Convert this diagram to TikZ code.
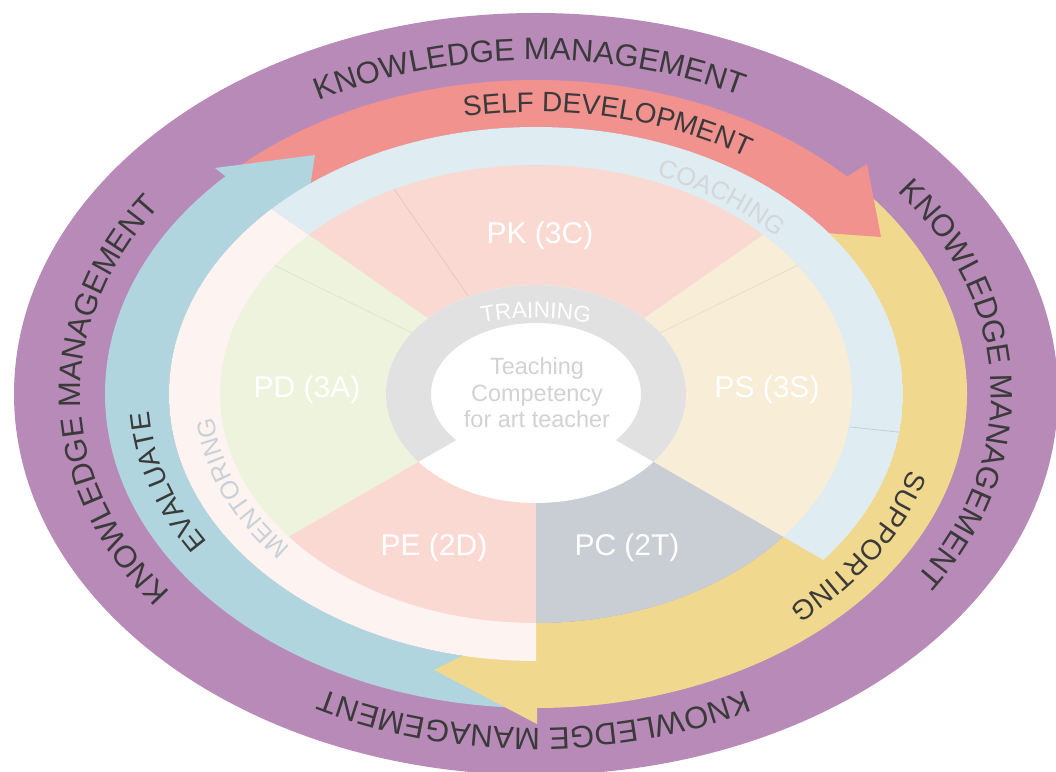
\documentclass[tikz,border=0pt]{standalone}
\usepackage{fontspec}
\setmainfont{Liberation Sans}
\usetikzlibrary{decorations.text}
\definecolor{kmpurple}{HTML}{B78AB8}
\definecolor{sdpink}{HTML}{F2928F}
\definecolor{supyellow}{HTML}{F0D98E}
\definecolor{evblue}{HTML}{B0D5DE}
\definecolor{coachring}{HTML}{DFECF1}
\definecolor{mentring}{HTML}{FDF3F0}
\definecolor{pkpink}{HTML}{FAD9D3}
\definecolor{pdgreen}{HTML}{EEF3DE}
\definecolor{pscream}{HTML}{F8EDD6}
\definecolor{pcgray}{HTML}{C9CED5}
\definecolor{traingray}{HTML}{E1E1E1}
\definecolor{darktext}{HTML}{3A3A3A}
\definecolor{centertext}{HTML}{D2D2D2}
\definecolor{coachtext}{HTML}{D3D7DA}
\definecolor{menttext}{HTML}{C9D1D7}
\newcommand\kmfmt{\fontsize{23.25}{24}\selectfont\color{darktext}}
\newcommand\bandfmt{\fontsize{21}{22}\selectfont\color{darktext}}
\newcommand\coachfmt{\fontsize{19}{20}\selectfont\color{coachtext}}
\newcommand\mentfmt{\fontsize{19}{20}\selectfont\color{menttext}}
\newcommand\trainfmt{\fontsize{17}{18}\selectfont\color{white}}
\newcommand\wedgeclip[2]{\clip (0,0) -- (#1:2000) arc[start angle=#1, end angle=#2, radius=2000] -- cycle;}
\tikzset{
  seclabel/.style={text=white, font=\fontsize{22.5}{24}\selectfont, inner sep=0pt},
  centerlabel/.style={text=centertext, font=\fontsize{17.6}{19.9}\selectfont, align=center, inner sep=0pt},
  faint/.style={line width=0.6},
  ringtext/.style={decorate, decoration={text along path, text align=center, text={#1}}}
}
\begin{document}
\begin{tikzpicture}[x=0.75pt,y=0.75pt]
\useasboundingbox (0,0) rectangle (1056,771);
\begin{scope}[shift={(536,377)}]
% outer band
\fill[kmpurple] (0,0) ellipse[x radius=522, y radius=381];
% yellow body
\fill[supyellow] (270:431 and 314) arc[start angle=270, end angle=400, x radius=431, y radius=314]
  -- (400:316 and 229) arc[start angle=400, end angle=270, x radius=316, y radius=229] -- cycle;
% pink arrow
\fill[sdpink] (135:431 and 314) arc[start angle=135, end angle=43.8, x radius=431, y radius=314]
  -- (331,230) -- (345,157)
  -- (37:367 and 267) arc[start angle=37, end angle=135, x radius=367, y radius=267] -- cycle;
% blue arrow
\fill[evblue] (270:367 and 267) arc[start angle=270, end angle=127.9, x radius=367, y radius=267]
  -- (-221,239) -- (-321,226)
  -- (136.1:431 and 314) arc[start angle=136.1, end angle=270, x radius=431, y radius=314] -- cycle;
% yellow head
\fill[supyellow] (-102,-276) -- (1,-330) -- (1,-246) -- (-50,-250) -- cycle;
% rings
\begin{scope}\wedgeclip{-30}{145}
  \clip (0,0) ellipse[x radius=367, y radius=267];
  \fill[coachring] (0,0) ellipse[x radius=367, y radius=267];
  \draw[faint, draw=coachring!88!black] (0,0) -- (-6:600);
\end{scope}
\begin{scope}\wedgeclip{145}{270}
  \fill[mentring] (0,0) ellipse[x radius=367, y radius=267];
\end{scope}
% sectors
\begin{scope}\wedgeclip{35}{145}\fill[pkpink] (0,0) ellipse[x radius=316, y radius=229];\end{scope}
\begin{scope}\wedgeclip{145}{210}\fill[pdgreen] (0,0) ellipse[x radius=316, y radius=229];\end{scope}
\begin{scope}\wedgeclip{210}{270}\fill[pkpink] (0,0) ellipse[x radius=316, y radius=229];\end{scope}
\begin{scope}\wedgeclip{270}{330}\fill[pcgray] (0,0) ellipse[x radius=316, y radius=229];\end{scope}
\begin{scope}\wedgeclip{330}{395}\fill[pscream] (0,0) ellipse[x radius=316, y radius=229];\end{scope}
\begin{scope}
  \clip (0,0) ellipse[x radius=316, y radius=229];
  \draw[faint, draw=pkpink!92!black] (0,0) -- (124.7:500);
  \draw[faint, draw=pdgreen!94!black] (0,0) -- (153.8:500);
  \draw[faint, draw=pscream!94!black] (0,0) -- (26.2:500);
\end{scope}
% training ring
\fill[white] (0,0) ellipse[x radius=150, y radius=109];
\begin{scope}\wedgeclip{-30}{210}
  \fill[traingray, even odd rule] (0,0) ellipse[x radius=150, y radius=109] (0,0) ellipse[x radius=105, y radius=71];
\end{scope}
% curved texts
\path[ringtext={|\kmfmt|KNOWLEDGE MANAGEMENT}] (161:455 and 334) arc[start angle=161, end angle=21, x radius=455, y radius=334];
\path[ringtext={|\kmfmt|KNOWLEDGE MANAGEMENT}] (71.7:455 and 334) arc[start angle=71.7, end angle=-68.3, x radius=455, y radius=334];
\path[ringtext={|\kmfmt|KNOWLEDGE MANAGEMENT}] (339.7:455 and 334) arc[start angle=339.7, end angle=199.7, x radius=455, y radius=334];
\path[ringtext={|\kmfmt|KNOWLEDGE MANAGEMENT}] (251:455 and 334) arc[start angle=251, end angle=111, x radius=455, y radius=334];
\path[ringtext={|\bandfmt|SELF DEVELOPMENT}] (118:387 and 282) arc[start angle=118, end angle=38, x radius=387, y radius=282];
\path[ringtext={|\bandfmt|EVALUATE}] (226.5:387 and 282) arc[start angle=226.5, end angle=166.5, x radius=387, y radius=282];
\path[ringtext={|\bandfmt|SUPPORTING}] (10.5:387 and 282) arc[start angle=10.5, end angle=-69.5, x radius=387, y radius=282];
\path[ringtext={|\coachfmt|COACHING}] (83.4:324 and 235) arc[start angle=83.4, end angle=23.4, x radius=324, y radius=235];
\path[ringtext={|\mentfmt|MENTORING}] (232:324 and 235) arc[start angle=232, end angle=172, x radius=324, y radius=235];
\path[ringtext={|\trainfmt|TRAINING}] (150:150 and 76) arc[start angle=150, end angle=30, x radius=150, y radius=76];
% sector labels
\node[seclabel] (pk) at (4,158) {PK (3C)};
\node[seclabel] (pd) at (-229,4) {PD (3A)};
\node[seclabel] (ps) at (231,4) {PS (3S)};
\node[seclabel] (pe) at (-102,-154) {PE (2D)};
\node[seclabel] (pc) at (91,-154) {PC (2T)};
\node[centerlabel] (core) at (1,1) {Teaching\\Competency\\for art teacher};
\end{scope}
\end{tikzpicture}
\end{document}
